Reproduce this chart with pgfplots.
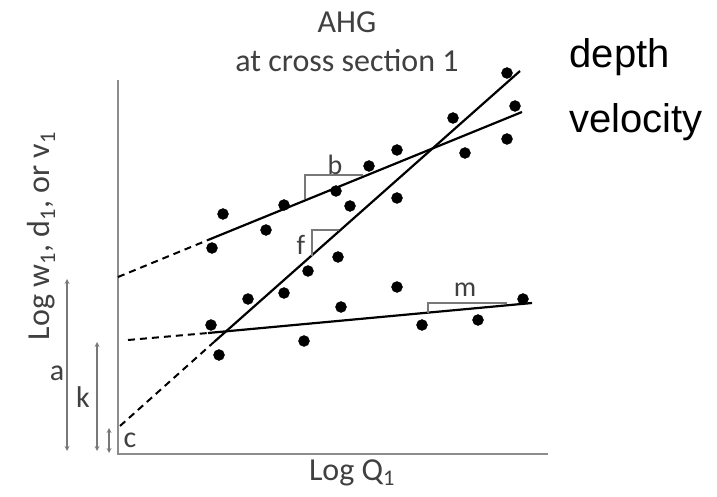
\documentclass[border=0pt]{standalone}
\usepackage{pgfplots}
\pgfplotsset{compat=1.18}
\usepackage{fontspec}
\setmainfont{Carlito}
\newfontfamily\arialf{Liberation Sans}
\definecolor{txtgray}{RGB}{64,64,64}
\definecolor{axgray}{RGB}{140,140,140}
\definecolor{trigray}{RGB}{120,120,120}
\begin{document}
\begin{tikzpicture}
\begin{axis}[
  width=717pt, height=497pt, scale only axis,
  xmin=0, xmax=717, ymin=0, ymax=497, y dir=reverse,
  axis lines=none, clip=false,
]
% axes
\addplot[axgray, line width=2pt] coordinates {(118,80) (118,454) (548,454)};
% width line (b)
\addplot[black, line width=2pt, dash pattern=on 7pt off 5pt] coordinates {(118,277) (208,240)};
\addplot[black, line width=2.2pt] coordinates {(208,240) (522,112)};
% depth line (f)
\addplot[black, line width=2pt, dash pattern=on 7pt off 5pt] coordinates {(120,426) (214,342)};
\addplot[black, line width=2.2pt] coordinates {(214,342) (520,71)};
% velocity line (m)
\addplot[black, line width=2pt, dash pattern=on 7pt off 5pt] coordinates {(128,340) (208,333)};
\addplot[black, line width=2.2pt] coordinates {(208,333) (532,303)};
% slope triangles
\addplot[trigray, line width=1.2pt] coordinates {(305,199) (305,175) (363,175)};
\addplot[trigray, line width=1.2pt] coordinates {(312,256) (312,230) (339,230)};
\addplot[trigray, line width=1.2pt] coordinates {(428,313) (428,303) (507,303)};
% dots
\addplot[only marks, mark=*, mark size=5.5pt, black] coordinates {
(223,214) (212,248) (266,230) (284,205) (336,191) (350,206) (369,166) (397,150) (453,118) (465,153) (507,139) (515,106)
(397,198) (338,257) (308,271) (284,293) (248,299) (219,355) (507,73)
(211,325) (341,307) (304,341) (397,287) (422,325) (478,320) (523,299)
};
% arrows
\addplot[trigray, line width=1.2pt, <->, >=stealth] coordinates {(67,279) (67,451)};
\addplot[trigray, line width=1.2pt, <->, >=stealth] coordinates {(97,342) (97,451)};
\addplot[trigray, line width=1.2pt, <->, >=stealth] coordinates {(109,428) (109,453)};
% labels
\node[txtgray, font=\fontsize{30}{36}\selectfont] at (axis cs:57,373) {a};
\node[txtgray, font=\fontsize{30}{36}\selectfont] at (axis cs:83,397) {k};
\node[txtgray, font=\fontsize{30}{36}\selectfont] at (axis cs:130,440) {c};
\node[txtgray, font=\fontsize{28}{34}\selectfont] at (axis cs:335,165) {b};
\node[txtgray, font=\fontsize{28}{34}\selectfont] at (axis cs:301,245) {f};
\node[txtgray, font=\fontsize{28}{34}\selectfont] at (axis cs:465,290) {m};
% titles
\node[txtgray, anchor=base, font=\fontsize{32}{38}\selectfont] at (axis cs:347,33) {AHG};
\node[txtgray, anchor=base, font=\fontsize{32}{38}\selectfont] at (axis cs:347,72) {at cross section 1};
\node[txtgray, anchor=base, font=\fontsize{32}{38}\selectfont] at (axis cs:352,480) {Log Q\textsubscript{1}};
\node[txtgray, rotate=90, font=\fontsize{32}{38}\selectfont] at (axis cs:41,236) {Log w\textsubscript{1}, d\textsubscript{1}, or v\textsubscript{1}};
\node[black, anchor=base west, font=\arialf\fontsize{40}{48}\selectfont] at (axis cs:566,68) {depth};
\node[black, anchor=base west, font=\arialf\fontsize{40}{48}\selectfont] at (axis cs:566,133) {velocity};
\end{axis}
\pgfresetboundingbox
\path[use as bounding box] (0,0) rectangle (717pt,497pt);
\end{tikzpicture}
\end{document}
